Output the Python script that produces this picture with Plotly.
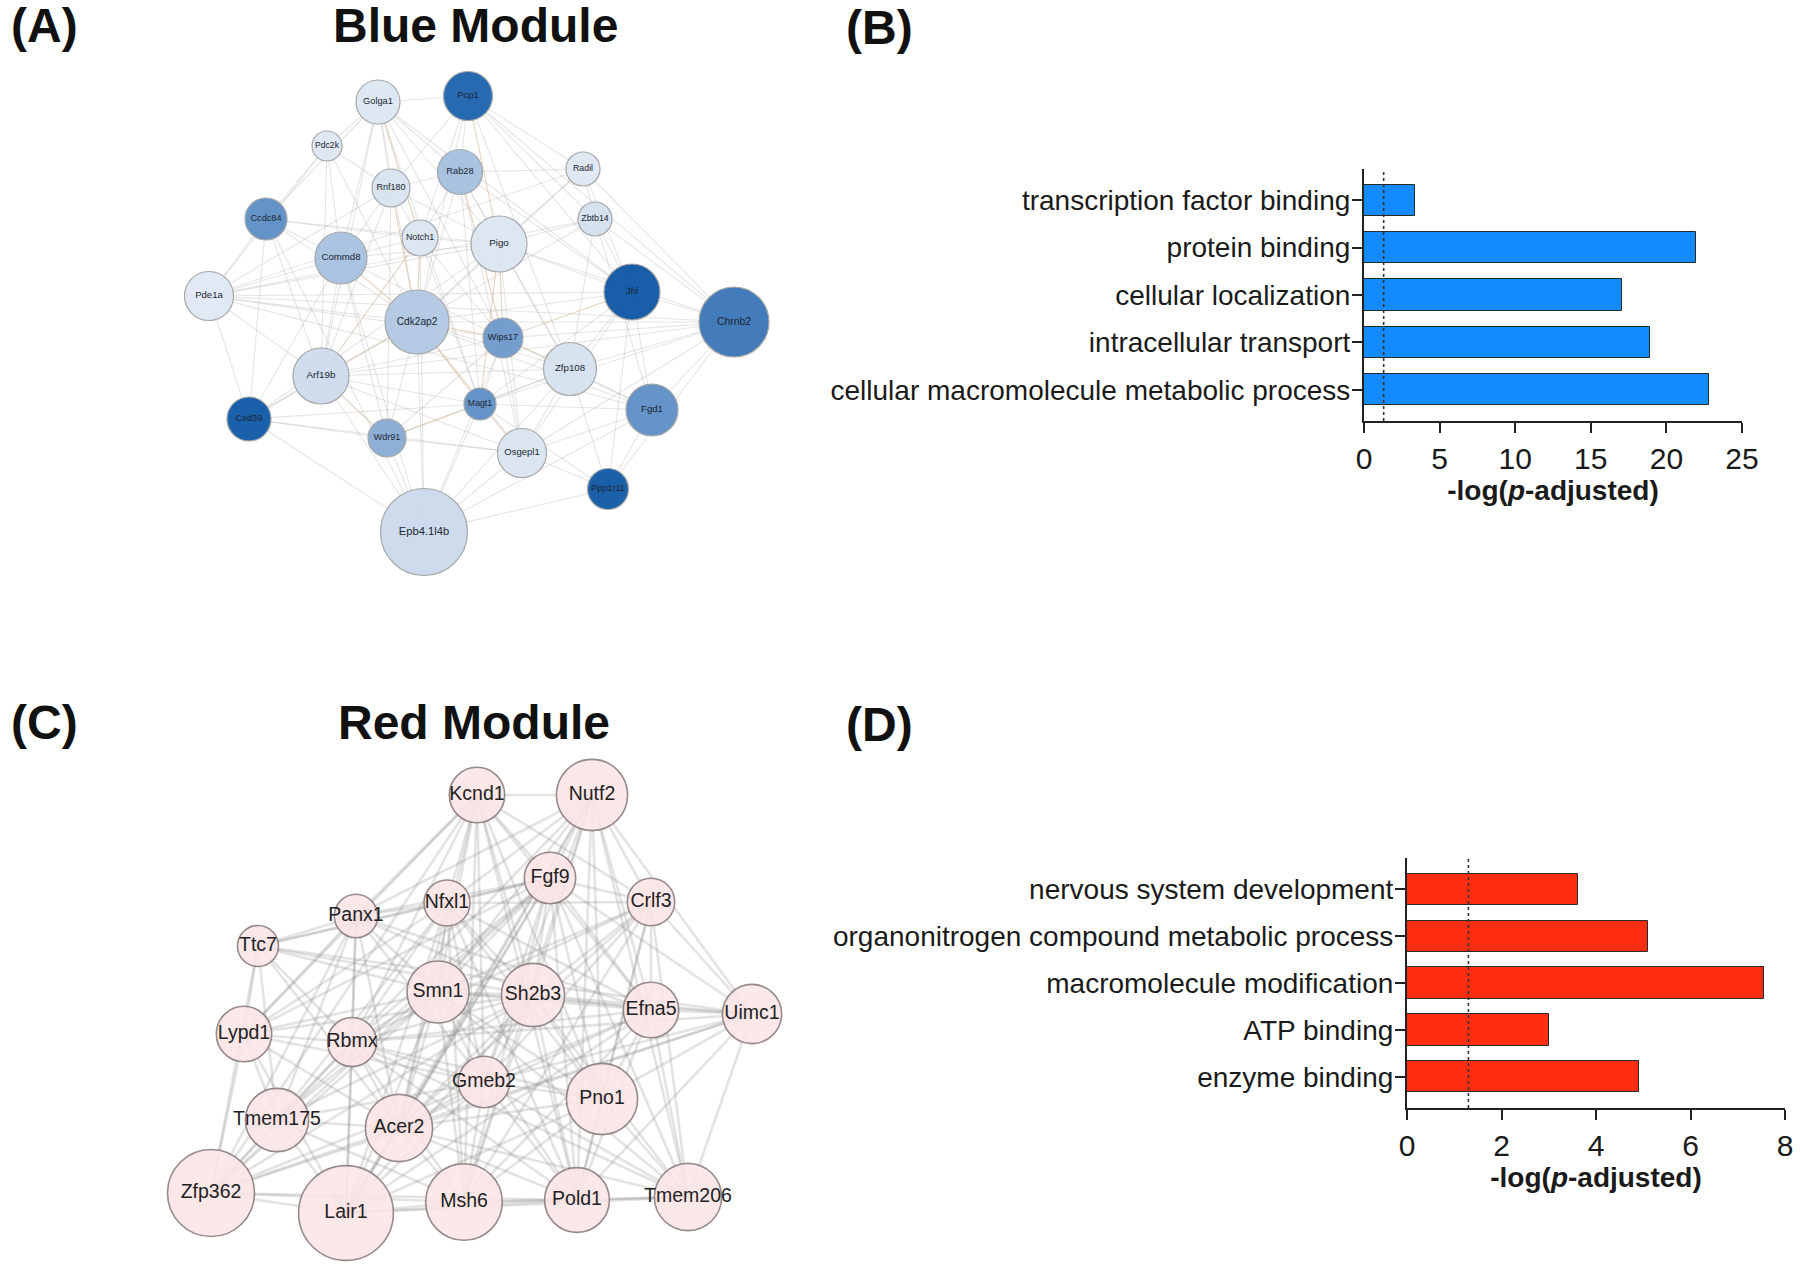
import plotly.graph_objects as go

W, H = 1800, 1269

# ---------------- GO enrichment data ----------------
blue_terms = ["transcription factor binding", "protein binding", "cellular localization",
              "intracellular transport", "cellular macromolecule metabolic process"]
blue_neglog_padj = [3.35, 21.98, 17.09, 18.94, 22.82]

red_terms = ["nervous system development", "organonitrogen compound metabolic process",
             "macromolecule modification", "ATP binding", "enzyme binding"]
red_neglog_padj = [3.62, 5.10, 7.55, 3.01, 4.92]

significance_threshold = 1.3  # -log10(0.05)
blue_xticks = [0, 5, 10, 15, 20, 25]
red_xticks = [0, 2, 4, 6, 8]

# ---------------- Blue module network ----------------
blue_genes = ["Golga1", "Pcp1", "Pdc2k", "Rnf180", "Rab28", "Radil", "Ccdc84", "Zbtb14",
              "Commd8", "Notch1", "Pigo", "Pde1a", "Cdk2ap2", "Jhl", "Chrnb2", "Wips17",
              "Arf19b", "Zfp108", "Cxd39", "Magt1", "Fgd1", "Wdr91", "Osgepl1", "Ppp1r11",
              "Epb4.1l4b"]
blue_x = [378, 468, 327, 391, 460, 583, 266, 595, 341, 420, 499, 209, 417, 632, 734, 503,
          321, 570, 249, 480, 652, 387, 522, 608, 424]
blue_y = [102, 96, 146, 188, 172, 169, 219, 219, 258, 238, 244, 296, 322, 292, 322, 338,
          376, 369, 419, 404, 410, 438, 453, 489, 532]
blue_radius = [22, 24.5, 15, 19, 22.5, 17, 21, 17, 26, 18, 28, 24.5, 32, 28, 35, 20,
               28, 26.5, 22, 16, 26, 19, 24.5, 20.5, 43.5]
blue_fill = ["#dce7f3", "#1c63ae", "#dfe8f3", "#d8e4f1", "#a4c0df", "#dfe8f3", "#5c8ec6",
             "#d4e1f0", "#a6c1e0", "#dbe6f2", "#dce6f2", "#e0e9f4", "#b2c9e4", "#0c56a4",
             "#3b75b8", "#6d99cb", "#cddcee", "#d6e2f0", "#0e58a6", "#5f8fc6", "#5e8fc7",
             "#88abd4", "#dae5f2", "#0f59a6", "#cbdaed"]
blue_links = {
    0: [1, 2, 3, 4, 6, 8, 9, 10, 12, 13, 15, 16, 19],
    1: [3, 4, 5, 7, 9, 10, 12, 13, 14, 17],
    2: [3, 6, 8, 11, 12, 16],
    3: [4, 8, 9, 10, 11, 12, 16, 21],
    4: [5, 9, 10, 12, 13, 15, 17, 19, 22],
    5: [7, 10, 11, 12, 13, 14],
    6: [8, 9, 10, 11, 12, 16, 18, 24],
    7: [10, 11, 12, 13, 14, 17, 20],
    8: [9, 10, 11, 12, 15, 16, 18, 21, 24],
    9: [10, 12, 15, 16, 19, 24],
    10: [11, 12, 13, 14, 15, 17, 18, 19, 22],
    11: [12, 13, 14, 15, 16, 18, 20],
    12: [13, 14, 15, 16, 17, 18, 19, 20, 21, 22, 24],
    13: [14, 15, 17, 19, 20, 22, 23],
    14: [15, 16, 17, 19, 20, 22, 23],
    15: [16, 17, 19, 20, 21, 22, 24],
    16: [17, 18, 19, 21, 22, 24],
    17: [19, 20, 21, 22, 23, 24],
    18: [19, 21, 22, 24],
    19: [20, 21, 22, 23, 24],
    20: [22, 23, 24],
    21: [22, 24],
    22: [23, 24],
    23: [24],
}
blue_orange_links = [(8, 12), (12, 15), (9, 12), (3, 12), (10, 15), (12, 19), (15, 17),
                     (12, 16), (16, 21), (19, 21), (4, 15), (12, 22), (10, 19), (13, 15),
                     (9, 16), (1, 10), (0, 9)]

# ---------------- Red module network ----------------
red_genes = ["Kcnd1", "Nutf2", "Fgf9", "Crlf3", "Panx1", "Nfxl1", "Ttc7", "Smn1", "Sh2b3",
             "Efna5", "Uimc1", "Lypd1", "Rbmx", "Gmeb2", "Pno1", "Tmem175", "Acer2",
             "Zfp362", "Lair1", "Msh6", "Pold1", "Tmem206"]
red_x = [477, 592, 550, 651, 356, 447, 258, 438, 533, 651, 752, 244, 352, 484, 602, 277,
         399, 211, 346, 464, 577, 688]
red_y = [795, 795, 878, 902, 916, 903, 946, 992, 995, 1010, 1014, 1034, 1042, 1082, 1099,
         1120, 1128, 1193, 1213, 1202, 1200, 1197]
red_radius = [27.7, 35.6, 25.7, 23.7, 21.7, 23, 20.5, 31, 31.6, 27.7, 29.6, 27.7, 24.5,
              25.7, 35.6, 31.6, 33.6, 43.5, 47.4, 38.3, 32.4, 33.6]
red_links = {
    0: [1, 2, 3, 4, 5, 7, 8, 9, 11, 12, 13, 14, 16, 17, 19, 20],
    1: [2, 3, 4, 5, 7, 8, 9, 10, 12, 13, 14, 16, 18, 19, 20, 21],
    2: [3, 4, 5, 6, 7, 8, 9, 10, 11, 12, 13, 14, 15, 16, 17, 18, 19, 20, 21],
    3: [5, 7, 8, 9, 10, 12, 13, 14, 16, 19, 20, 21],
    4: [5, 6, 7, 8, 9, 11, 12, 13, 15, 16, 17, 18],
    5: [6, 7, 8, 9, 11, 12, 13, 14, 15, 16, 18, 19, 20],
    6: [7, 8, 10, 11, 12, 15, 16, 17],
    7: [8, 9, 10, 11, 12, 13, 14, 15, 16, 17, 18, 19, 20, 21],
    8: [9, 10, 11, 12, 13, 14, 15, 16, 17, 18, 19, 20, 21],
    9: [10, 12, 13, 14, 16, 18, 19, 20, 21],
    10: [12, 13, 14, 16, 17, 20, 21],
    11: [12, 13, 15, 16, 17, 18],
    12: [13, 14, 15, 16, 17, 18, 19, 20, 21],
    13: [14, 15, 16, 17, 18, 19, 20, 21],
    14: [16, 18, 19, 20, 21],
    15: [16, 17, 18, 19],
    16: [17, 18, 19, 20, 21],
    17: [18, 19, 20],
    18: [19, 20, 21],
    19: [20, 21],
    20: [21],
}

FONT = "Liberation Sans, Arial, Helvetica, sans-serif"
fig = go.Figure()


def edge_xy(xs, ys, pairs):
    ex, ey = [], []
    for a, b in pairs:
        ex += [xs[a], xs[b], None]
        ey += [ys[a], ys[b], None]
    return ex, ey


def pairs_from(links):
    return [(a, b) for a, lst in links.items() for b in lst]


# blue network edges + nodes
ex, ey = edge_xy(blue_x, blue_y, pairs_from(blue_links))
fig.add_trace(go.Scatter(x=ex, y=ey, mode="lines", xaxis="x3", yaxis="y3",
                         line=dict(color="rgba(175,175,175,0.33)", width=1.1),
                         hoverinfo="skip", showlegend=False))
ex, ey = edge_xy(blue_x, blue_y, blue_orange_links)
fig.add_trace(go.Scatter(x=ex, y=ey, mode="lines", xaxis="x3", yaxis="y3",
                         line=dict(color="rgba(235,190,140,0.38)", width=1.1),
                         hoverinfo="skip", showlegend=False))
fig.add_trace(go.Scatter(
    x=blue_x, y=blue_y, mode="markers+text", text=blue_genes, xaxis="x3", yaxis="y3",
    marker=dict(size=[2 * r for r in blue_radius], color=blue_fill, opacity=0.95,
                line=dict(color="#a3a3a3", width=1.2)),
    textfont=dict(family=FONT, size=[7.3 + 0.09 * r for r in blue_radius], color="#1d2733"),
    textposition="middle center", hoverinfo="text", showlegend=False))

# red network edges + nodes
ex, ey = edge_xy(red_x, red_y, pairs_from(red_links))
fig.add_trace(go.Scatter(x=ex, y=ey, mode="lines", xaxis="x3", yaxis="y3",
                         line=dict(color="rgba(140,140,140,0.24)", width=2.6),
                         hoverinfo="skip", showlegend=False))
fig.add_trace(go.Scatter(
    x=red_x, y=red_y, mode="markers+text", text=red_genes, xaxis="x3", yaxis="y3",
    marker=dict(size=[2 * r for r in red_radius], color="#fce5e7", opacity=0.9,
                line=dict(color="#8c7f80", width=1.6)),
    textfont=dict(family=FONT, size=19.5, color="#222222"),
    textposition="middle center", hoverinfo="text", showlegend=False))

# bar charts
BAR_W = 0.66
fig.add_trace(go.Bar(x=blue_neglog_padj[::-1], y=blue_terms[::-1], orientation="h",
                     width=BAR_W, marker=dict(color="#138bff", line=dict(color="#2a2a2a", width=1)),
                     xaxis="x", yaxis="y", showlegend=False))
fig.add_trace(go.Scatter(x=[significance_threshold] * 2, y=[-0.66, 4.66], mode="lines",
                         line=dict(color="#333333", width=1.6, dash="dot"),
                         xaxis="x", yaxis="y4", showlegend=False, hoverinfo="skip"))
fig.add_trace(go.Bar(x=red_neglog_padj[::-1], y=red_terms[::-1], orientation="h",
                     width=BAR_W, marker=dict(color="#ff2e10", line=dict(color="#2a2a2a", width=1)),
                     xaxis="x2", yaxis="y2", showlegend=False))
fig.add_trace(go.Scatter(x=[significance_threshold] * 2, y=[-0.66, 4.66], mode="lines",
                         line=dict(color="#333333", width=1.6, dash="dot"),
                         xaxis="x2", yaxis="y5", showlegend=False, hoverinfo="skip"))


def px_dom_x(a, b):
    return [a / W, b / W]


def px_dom_y(top, bottom):
    return [1 - bottom / H, 1 - top / H]


axis_common = dict(showline=True, linecolor="#222222", linewidth=2.2, ticks="outside",
                   ticklen=10, tickwidth=2.2, tickcolor="#222222", showgrid=False,
                   zeroline=False, automargin=False)
xtickfont = dict(family=FONT, size=30, color="#1a1a1a")
ytickfont = dict(family=FONT, size=28, color="#1a1a1a")

title_txt = "<b>-log(<i>p</i>-adjusted)</b>"
fig.update_layout(
    width=W, height=H, margin=dict(l=0, r=0, t=0, b=0, autoexpand=False),
    paper_bgcolor="white", plot_bgcolor="rgba(0,0,0,0)",
    font=dict(family=FONT), bargap=0,
    xaxis=dict(domain=px_dom_x(1364, 1742), range=[0, 25], tickvals=blue_xticks, anchor="y",
               tickfont=xtickfont,
               title=dict(text=title_txt, font=dict(family=FONT, size=28, color="#1a1a1a"), standoff=6),
               **axis_common),
    yaxis=dict(domain=px_dom_y(169, 421), type="category", categoryorder="array",
               categoryarray=blue_terms[::-1], range=[-0.66, 4.66], anchor="x",
               tickfont=ytickfont, ticklabelstandoff=-4, **axis_common),
    yaxis4=dict(domain=px_dom_y(169, 421), range=[-0.66, 4.66], anchor="x", overlaying="y",
                visible=False, automargin=False),
    xaxis2=dict(domain=px_dom_x(1407, 1785), range=[0, 8], tickvals=red_xticks, anchor="y2",
                tickfont=xtickfont,
                title=dict(text=title_txt, font=dict(family=FONT, size=28, color="#1a1a1a"), standoff=6),
                **axis_common),
    yaxis2=dict(domain=px_dom_y(858, 1108), type="category", categoryorder="array",
                categoryarray=red_terms[::-1], range=[-0.66, 4.66], anchor="x2",
                tickfont=ytickfont, ticklabelstandoff=-4, **axis_common),
    yaxis5=dict(domain=px_dom_y(858, 1108), range=[-0.66, 4.66], anchor="x2", overlaying="y2",
                visible=False, automargin=False),
    xaxis3=dict(domain=[0, 1], range=[0, W], visible=False, anchor="y3", automargin=False),
    yaxis3=dict(domain=[0, 1], range=[H, 0], visible=False, anchor="x3", automargin=False),
)

panel_text = [("(A)", 9, 25, "left"), ("Blue Module", 475, 25, "center"),
              ("(B)", 844, 27, "left"), ("(C)", 9, 722, "left"),
              ("Red Module", 474, 722, "center"), ("(D)", 844, 724, "left")]
for txt, px, py, anc in panel_text:
    fig.add_annotation(text=f"<b>{txt}</b>", x=px / W, y=1 - py / H, xref="paper", yref="paper",
                       xanchor=anc, yanchor="middle", showarrow=False,
                       font=dict(family=FONT, size=48, color="#111111"))

fig.write_html("out.html", config={"displayModeBar": False},
               post_script="document.body.style.margin='0';document.body.style.overflow='hidden';")
